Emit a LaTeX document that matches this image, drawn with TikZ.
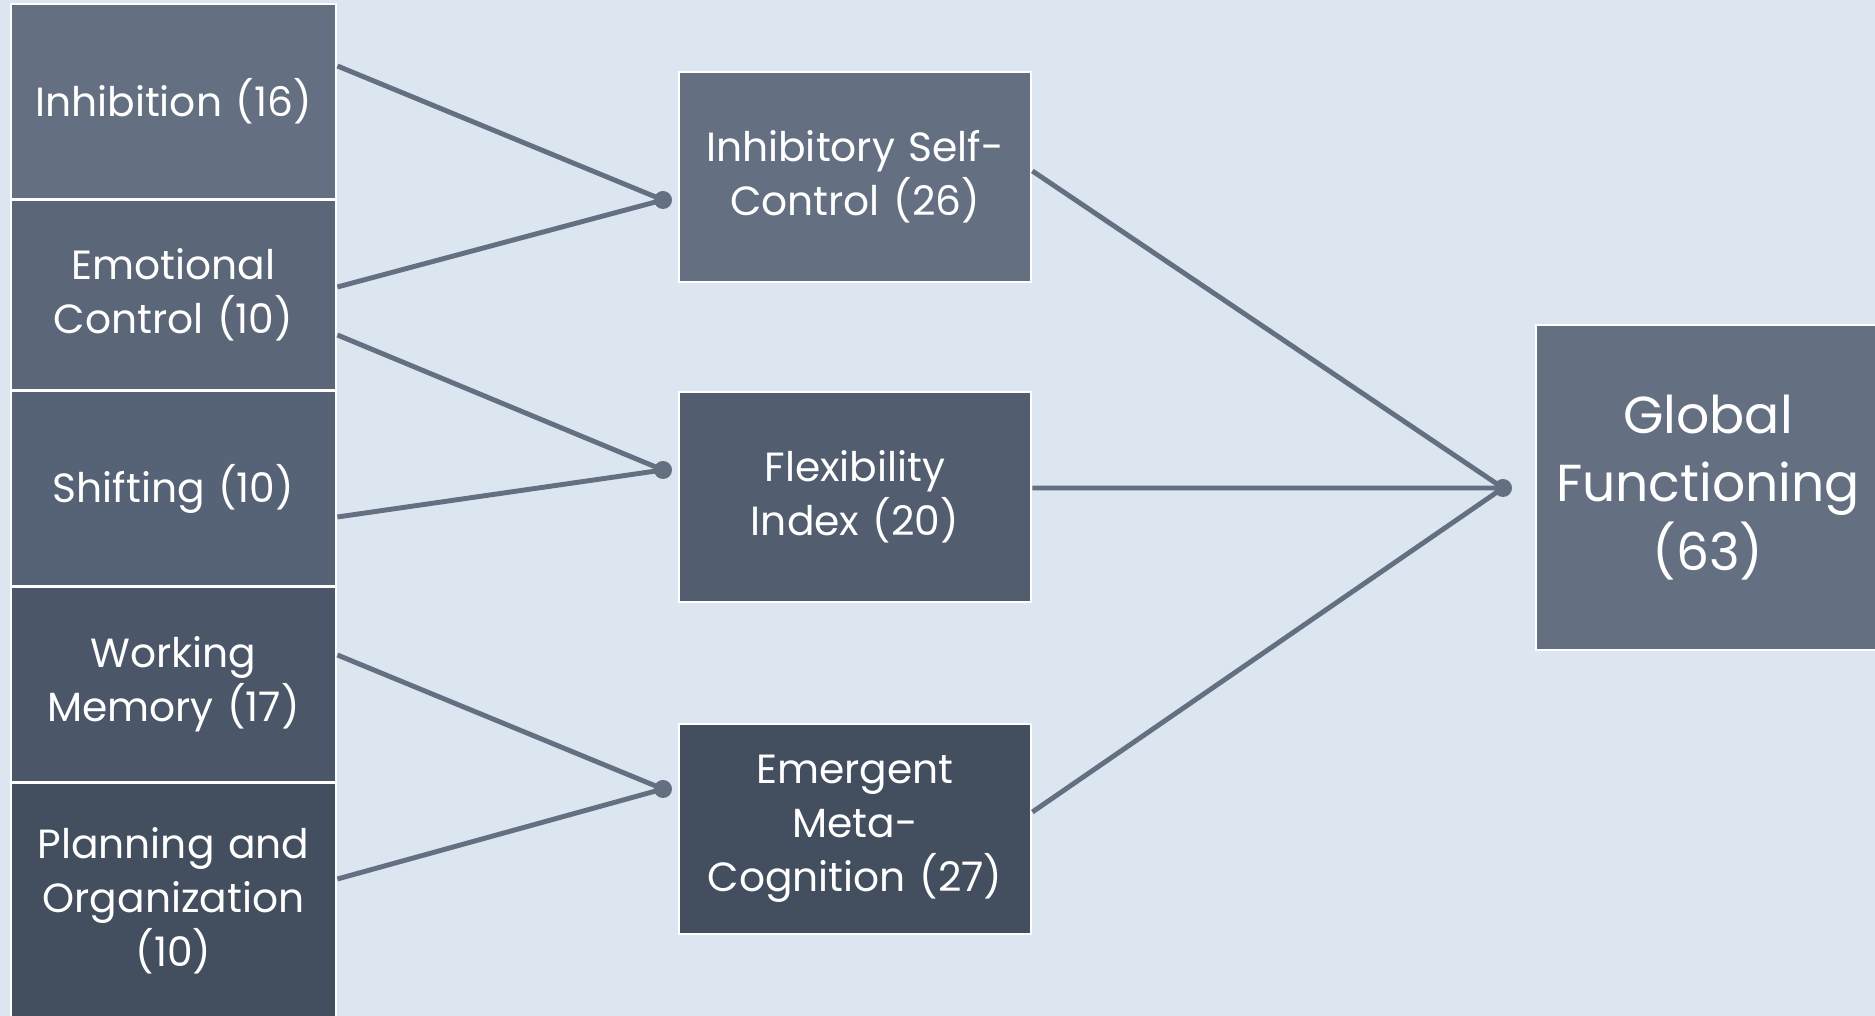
\documentclass[tikz,border=0pt]{standalone}
\usepackage{fontspec}
\setmainfont{Poppins}
\definecolor{bgblue}{HTML}{DCE6F0}
\definecolor{slateA}{HTML}{647081}
\definecolor{slateB}{HTML}{5B6779}
\definecolor{slateC}{HTML}{566275}
\definecolor{slateD}{HTML}{4B5668}
\definecolor{slateE}{HTML}{434E5F}
\definecolor{slateF}{HTML}{525D6F}
\definecolor{linkgray}{HTML}{647081}

\begin{document}
\begin{tikzpicture}[
    box/.style={draw=white, line width=0.8pt, text=white, align=center,
        inner sep=0pt, font=\fontsize{11.6}{15.4}\selectfont},
    leftbox/.style={box, minimum width=3.25cm, text width=3.2cm},
    midbox/.style={box, minimum width=3.52cm, minimum height=2.1cm, text width=3.4cm},
    link/.style={draw=linkgray, line width=1.4pt},
    dot/.style={fill=linkgray}
]
    \fill[bgblue] (0, 0) rectangle (18.75, 10.16);
    \useasboundingbox (0, 0) rectangle (18.75, 10.16);

    \node[leftbox, fill=slateA, minimum height=1.95cm] (inh) at (1.735, 9.145) {Inhibition (16)};
    \node[leftbox, fill=slateB, minimum height=1.9cm] (emo) at (1.735, 7.21) {Emotional\\Control (10)};
    \node[leftbox, fill=slateC, minimum height=1.95cm] (shf) at (1.735, 5.275) {Shifting (10)};
    \node[leftbox, fill=slateD, minimum height=1.95cm] (wm) at (1.735, 3.315) {Working\\Memory (17)};
    \node[leftbox, fill=slateE, minimum height=2.36cm] (plan) at (1.735, 1.15) {Planning and\\Organization\\(10)};

    \node[midbox, fill=slateA] (isc) at (8.55, 8.39) {Inhibitory Self-\\Control (26)};
    \node[midbox, fill=slateF] (flex) at (8.55, 5.19) {Flexibility\\Index (20)};
    \node[midbox, fill=slateE] (emc) at (8.55, 1.87) {Emergent\\Meta-\\Cognition (27)};

    \node[box, fill=slateA, minimum width=3.44cm, minimum height=3.25cm, text width=3.4cm,
        font=\fontsize{14.8}{19.6}\selectfont] (glob) at (17.08, 5.285) {Global\\Functioning\\(63)};

    \coordinate (d1) at (6.63, 8.16);
    \coordinate (d2) at (6.63, 5.46);
    \coordinate (d3) at (6.63, 2.27);
    \coordinate (dg) at (15.03, 5.28);

    \draw[link] ([yshift=3.55mm]inh.east) -- (d1);
    \draw[link] ([yshift=0.8mm]emo.east) -- (d1);
    \draw[link] ([yshift=-4mm]emo.east) -- (d2);
    \draw[link] ([yshift=-2.85mm]shf.east) -- (d2);
    \draw[link] ([yshift=2.95mm]wm.east) -- (d3);
    \draw[link] ([yshift=2.2mm]plan.east) -- (d3);

    \draw[link] ([yshift=0.6mm]isc.east) -- (dg);
    \draw[link] ([yshift=0.9mm]flex.east) -- (dg);
    \draw[link] ([yshift=1.7mm]emc.east) -- (dg);

    \foreach \d in {d1, d2, d3, dg}
        \fill[dot] (\d) circle (0.09);
\end{tikzpicture}
\end{document}
